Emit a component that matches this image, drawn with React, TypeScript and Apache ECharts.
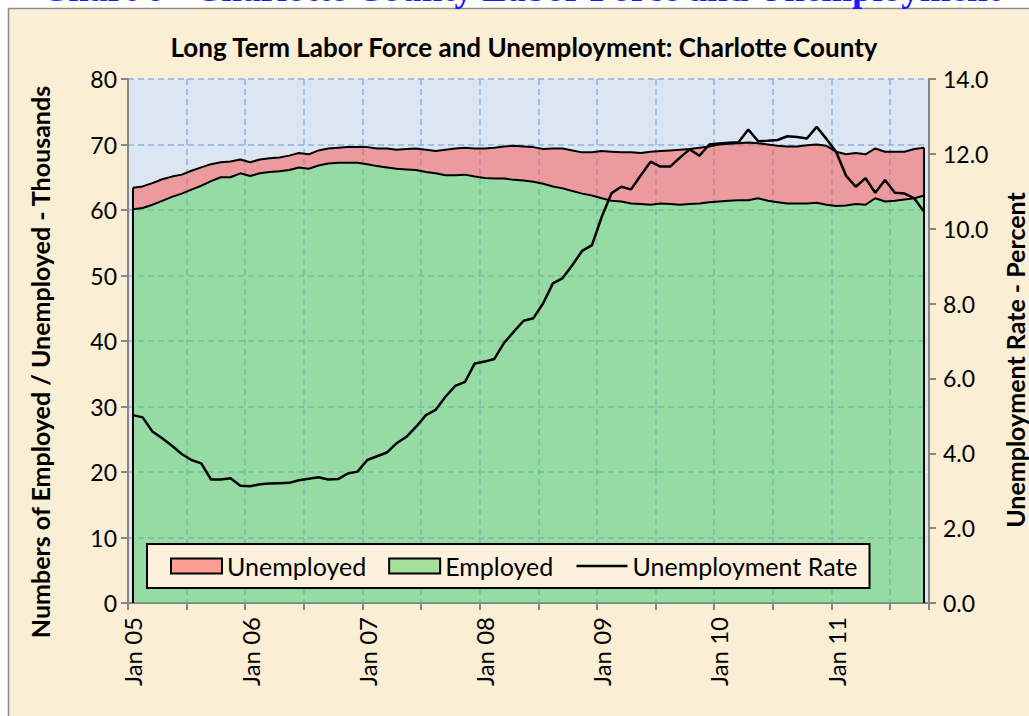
import React, { useEffect, useRef } from "react";
import * as echarts from "echarts";

const monthNames = ["Jan", "Feb", "Mar", "Apr", "May", "Jun", "Jul", "Aug", "Sep", "Oct", "Nov", "Dec"];
const startYear = 2005;
const monthCount = 82;
const categories = Array.from({ length: monthCount }, (_, i) =>
  `${monthNames[i % 12]} ${String((startYear + Math.floor(i / 12)) % 100).padStart(2, "0")}`
);

// Thousands of people
const employed = [
  60.1, 60.3, 60.8, 61.4, 62.0, 62.5, 63.1, 63.7, 64.4, 65.0,
  65.0, 65.6, 65.2, 65.6, 65.8, 65.9, 66.1, 66.5, 66.3, 66.8,
  67.1, 67.2, 67.2, 67.2, 67.0, 66.7, 66.5, 66.3, 66.2, 66.1,
  65.8, 65.6, 65.3, 65.3, 65.4, 65.1, 64.9, 64.8, 64.8, 64.6,
  64.5, 64.3, 64.0, 63.6, 63.3, 62.9, 62.5, 62.2, 61.8, 61.4,
  61.3, 61.0, 60.9, 60.8, 61.0, 60.9, 60.8, 60.9, 61.0, 61.2,
  61.3, 61.4, 61.5, 61.5, 61.8, 61.4, 61.2, 61.0, 61.0, 61.0,
  61.1, 60.8, 60.6, 60.7, 60.9, 60.8, 61.8, 61.3, 61.4, 61.6,
  61.8, 62.2,
];

const unemployed = [
  3.3, 3.3, 3.3, 3.3, 3.1, 2.9, 2.9, 2.8, 2.6, 2.3,
  2.4, 2.1, 2.1, 2.1, 2.1, 2.1, 2.2, 2.2, 2.2, 2.3,
  2.3, 2.3, 2.4, 2.4, 2.6, 2.7, 2.9, 2.9, 3.1, 3.3,
  3.4, 3.4, 3.9, 4.1, 4.1, 4.3, 4.5, 4.7, 4.9, 5.2,
  5.2, 5.3, 5.3, 5.8, 6.1, 6.2, 6.3, 6.6, 7.2, 7.5,
  7.5, 7.8, 7.8, 8.1, 8.0, 8.2, 8.4, 8.4, 8.5, 8.5,
  8.7, 8.7, 8.7, 8.8, 8.4, 8.6, 8.6, 8.7, 8.7, 8.9,
  8.9, 9.0, 8.3, 7.8, 7.8, 7.7, 7.6, 7.6, 7.5, 7.3,
  7.5, 7.3,
];

// Percent
const unemploymentRate = [
  5.02, 4.96, 4.58, 4.40, 4.20, 3.98, 3.82, 3.73, 3.30, 3.30,
  3.33, 3.13, 3.12, 3.17, 3.19, 3.20, 3.21, 3.28, 3.32, 3.36,
  3.30, 3.31, 3.46, 3.51, 3.82, 3.92, 4.02, 4.27, 4.44, 4.71,
  5.02, 5.16, 5.51, 5.80, 5.91, 6.40, 6.45, 6.52, 6.95, 7.25,
  7.54, 7.61, 8.01, 8.54, 8.68, 9.03, 9.41, 9.56, 10.32, 10.95,
  11.12, 11.05, 11.43, 11.79, 11.66, 11.66, 11.90, 12.12, 11.95, 12.25,
  12.28, 12.30, 12.31, 12.65, 12.34, 12.35, 12.37, 12.47, 12.45, 12.41,
  12.72, 12.40, 12.05, 11.42, 11.12, 11.35, 10.96, 11.30, 10.96, 10.94,
  10.81, 10.45,
];

const FONT = "Lato, 'DejaVu Sans', sans-serif";
const PARCHMENT = "#faeed5";
const AXIS_GREY = "#868686";
const GRID_BLUE = "#8db4e2";
const PINK = "rgba(250,78,74,0.5)";
const GREEN = "rgba(80,206,86,0.5)";

export default function App() {
  const ref = useRef<HTMLDivElement>(null);

  useEffect(() => {
    document.body.style.margin = "0";
    const chart = echarts.init(ref.current!, null, { renderer: "svg" });
    const last = monthCount - 1;
    chart.setOption({
      animation: false,
      backgroundColor: PARCHMENT,
      textStyle: { fontFamily: FONT },
      graphic: [
        { type: "rect", shape: { x: 0, y: 0, width: 1029, height: 8 }, style: { fill: "#ffffff" }, z: 100 },
        { type: "rect", shape: { x: 0, y: 0, width: 8, height: 716 }, style: { fill: "#ffffff" }, z: 100 },
        { type: "line", shape: { x1: 8, y1: 8.5, x2: 1029, y2: 8.5 }, style: { stroke: "#8c8c8c", lineWidth: 1.5 }, z: 101 },
        { type: "line", shape: { x1: 8.5, y1: 8, x2: 8.5, y2: 716 }, style: { stroke: "#8c8c8c", lineWidth: 1.5 }, z: 101 },
        {
          type: "text", x: 1000, y: 7, z: 102,
          style: {
            text: "Chart 6 - Charlotte County Labor Force and Unemployment",
            font: "bold 37px 'Liberation Serif', serif",
            fill: "#1a1aff", align: "right", verticalAlign: "bottom",
          },
        },
        {
          type: "text", x: 524, y: 47, z: 10,
          style: {
            text: "Long Term Labor Force and Unemployment: Charlotte County",
            font: `bold 26px ${FONT}`, fill: "#000", align: "center", verticalAlign: "middle",
          },
        },
        {
          type: "text", x: 40, y: 362, rotation: Math.PI / 2, z: 10,
          style: {
            text: "Numbers of Employed / Unemployed - Thousands",
            font: `bold 25px ${FONT}`, fill: "#000", align: "center", verticalAlign: "middle",
          },
        },
        {
          type: "text", x: 1015, y: 360, rotation: Math.PI / 2, z: 10,
          style: {
            text: "Unemployment Rate - Percent",
            font: `bold 25px ${FONT}`, fill: "#000", align: "center", verticalAlign: "middle",
          },
        },
      ],
      grid: {
        left: 128, right: 100, top: 79, bottom: 113,
        show: true, backgroundColor: "#dce6f2", borderWidth: 0,
      },
      legend: {
        left: 147, top: 544,
        padding: [7, 12, 7, 23],
        itemGap: 22, itemWidth: 51, itemHeight: 15,
        backgroundColor: "#fcf1dc", borderColor: "#000", borderWidth: 2,
        textStyle: { fontSize: 25, color: "#000", fontFamily: FONT, lineHeight: 30 },
        data: [
          { name: "Unemployed", icon: "rect", itemStyle: { color: PINK, borderColor: "#000", borderWidth: 2 } },
          { name: "Employed", icon: "rect", itemStyle: { color: GREEN, borderColor: "#000", borderWidth: 2 } },
          {
            name: "Unemployment Rate",
            itemStyle: { opacity: 0 },
            lineStyle: { color: "#000", width: 2.5 },
          },
        ],
      },
      xAxis: {
        type: "category",
        data: categories,
        boundaryGap: true,
        axisLine: { lineStyle: { color: AXIS_GREY, width: 2 } },
        axisTick: { show: true, interval: 5, length: 7, lineStyle: { color: AXIS_GREY, width: 2 } },
        axisLabel: { interval: 11, rotate: 90, margin: 14, fontSize: 24, color: "#000", fontFamily: FONT },
        splitLine: { show: true, interval: 5, lineStyle: { color: GRID_BLUE, width: 1.5, type: [6, 4] } },
      },
      yAxis: [
        {
          type: "value", min: 0, max: 80, interval: 10,
          axisLine: { show: true, lineStyle: { color: AXIS_GREY, width: 2 } },
          axisTick: { show: true, length: 7, lineStyle: { color: AXIS_GREY, width: 2 } },
          axisLabel: { margin: 11, fontSize: 23, color: "#000", fontFamily: FONT },
          splitLine: { show: true, lineStyle: { color: GRID_BLUE, width: 1.5, type: [6, 4] } },
        },
        {
          type: "value", min: 0, max: 14, interval: 2, position: "right",
          axisLine: { show: true, lineStyle: { color: AXIS_GREY, width: 2 } },
          axisTick: { show: true, length: 7, lineStyle: { color: AXIS_GREY, width: 2 } },
          axisLabel: { margin: 14, fontSize: 23, color: "#000", fontFamily: FONT, formatter: (v: number) => v.toFixed(1) },
          splitLine: { show: false },
        },
      ],
      series: [
        {
          name: "Employed", type: "line", stack: "labor", yAxisIndex: 0,
          data: employed, symbol: "none",
          lineStyle: { color: "#000", width: 2 },
          itemStyle: { color: GREEN },
          areaStyle: { color: GREEN, opacity: 1 },
        },
        {
          name: "Unemployed", type: "line", stack: "labor", yAxisIndex: 0,
          data: unemployed, symbol: "none",
          lineStyle: { color: "#000", width: 2 },
          itemStyle: { color: PINK },
          areaStyle: { color: PINK, opacity: 1 },
          markLine: {
            silent: true, symbol: "none",
            label: { show: false },
            lineStyle: { color: "#000", width: 2, type: "solid" },
            data: [
              [{ coord: [0, 0] }, { coord: [0, employed[0] + unemployed[0]] }],
              [{ coord: [last, 0] }, { coord: [last, employed[last] + unemployed[last]] }],
            ],
          },
        },
        {
          name: "Unemployment Rate", type: "line", yAxisIndex: 1,
          data: unemploymentRate, symbol: "none", z: 5,
          lineStyle: { color: "#000", width: 2.5 },
          itemStyle: { color: "#000" },
        },
      ],
    });
    return () => chart.dispose();
  }, []);

  return <div ref={ref} style={{ width: 1029, height: 716 }} />;
}
